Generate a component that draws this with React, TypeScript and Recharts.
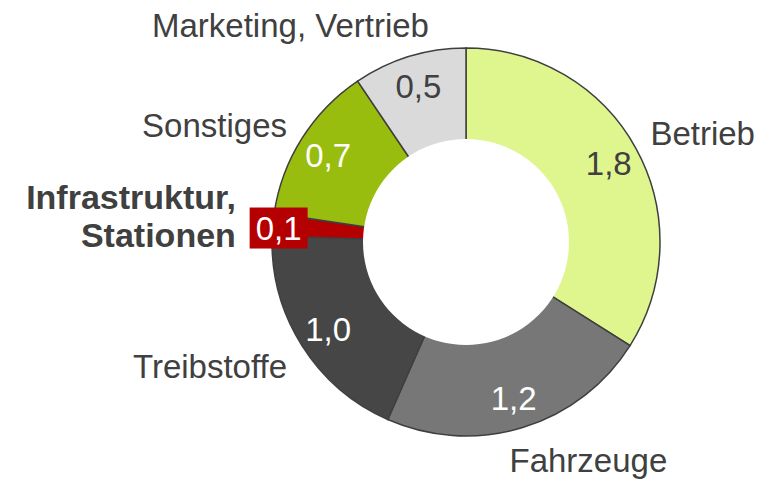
import React from "react";
import { PieChart, Pie, Cell } from "recharts";

// Kostenaufteilung
const categories = [
  "Betrieb",
  "Fahrzeuge",
  "Treibstoffe",
  "Infrastruktur, Stationen",
  "Sonstiges",
  "Marketing, Vertrieb",
];
const values = [1.8, 1.2, 1.0, 0.1, 0.7, 0.5];

const data = categories.map((name, i) => ({ name, value: values[i] }));
const hole = [{ name: "hole", value: 1 }];

const COLORS: { [key: string]: string } = {
  "Betrieb": "#dff68f",
  "Fahrzeuge": "#777777",
  "Treibstoffe": "#464646",
  "Infrastruktur, Stationen": "#b40000",
  "Sonstiges": "#98bd0e",
  "Marketing, Vertrieb": "#dadada",
};

const VALUE_COLORS: { [key: string]: string } = {
  "Betrieb": "#404040",
  "Marketing, Vertrieb": "#404040",
};

// nudges for the outer category labels (relative to a point just outside the ring)
const NAME_LABEL: { [key: string]: { dx: number; dy: number; anchor: "start" | "middle" | "end"; bold?: boolean } } = {
  "Betrieb": { dx: -3, dy: 6, anchor: "start" },
  "Fahrzeuge": { dx: -19, dy: 25, anchor: "start" },
  "Treibstoffe": { dx: 2, dy: 22, anchor: "end" },
  "Infrastruktur, Stationen": { dx: -17, dy: -14, anchor: "end", bold: true },
  "Sonstiges": { dx: 2, dy: 9, anchor: "end" },
  "Marketing, Vertrieb": { dx: -113, dy: 0, anchor: "middle" },
};

const FONT = "'Liberation Sans', Arial, sans-serif";
const TEXT = "#404040";
const SIZE = 33;
const RAD = Math.PI / 180;

const renderLabel = (props: any) => {
  const { cx, cy, midAngle, outerRadius, name, value } = props;
  const cos = Math.cos(-midAngle * RAD);
  const sin = Math.sin(-midAngle * RAD);

  // value inside the ring
  const vr = outerRadius - 31;
  let vx = cx + vr * cos;
  const vy = cy + vr * sin;
  const boxed = name === "Infrastruktur, Stationen";
  if (boxed) vx -= 25;
  const txt = value.toFixed(1).replace(".", ",");

  // category name outside
  const nr = outerRadius + 20;
  const cfg = NAME_LABEL[name];
  const nx = cx + nr * cos + cfg.dx;
  const ny = cy + nr * sin + cfg.dy;
  const lines = name === "Infrastruktur, Stationen" ? ["Infrastruktur,", "Stationen"] : [name];

  return (
    <g>
      {boxed && <rect x={vx - 29} y={vy - 20} width={58} height={41} fill={COLORS[name]} />}
      <text
        x={vx}
        y={vy + 12}
        textAnchor="middle"
        fontSize={SIZE}
        fontFamily={FONT}
        fill={VALUE_COLORS[name] || "#ffffff"}
      >
        {txt}
      </text>
      {lines.map((l, i) => (
        <text
          key={l}
          x={nx}
          y={ny + i * 38}
          textAnchor={cfg.anchor}
          fontSize={cfg.bold ? 34 : SIZE}
          fontWeight={cfg.bold ? "bold" : "normal"}
          fontFamily={FONT}
          fill={TEXT}
        >
          {l}
        </text>
      ))}
    </g>
  );
};

export default function App() {
  return (
    <div style={{ position: "absolute", left: 0, top: 0, background: "#ffffff" }}>
      <PieChart width={763} height={479} margin={{ top: 0, right: 0, bottom: 0, left: 0 }}>
        <Pie
          data={data}
          dataKey="value"
          nameKey="name"
          cx={466}
          cy={242}
          innerRadius={101}
          outerRadius={194}
          startAngle={90}
          endAngle={-270}
          stroke="#3f3f3f"
          strokeWidth={1.5}
          label={renderLabel}
          labelLine={false}
          isAnimationActive={false}
        >
          {data.map((entry, index) => (
            <Cell key={`cell-${index}`} fill={COLORS[entry.name]} />
          ))}
        </Pie>
        <Pie
          data={hole}
          dataKey="value"
          cx={466}
          cy={242}
          innerRadius={0}
          outerRadius={103}
          fill="#ffffff"
          stroke="none"
          isAnimationActive={false}
        />
      </PieChart>
    </div>
  );
}
